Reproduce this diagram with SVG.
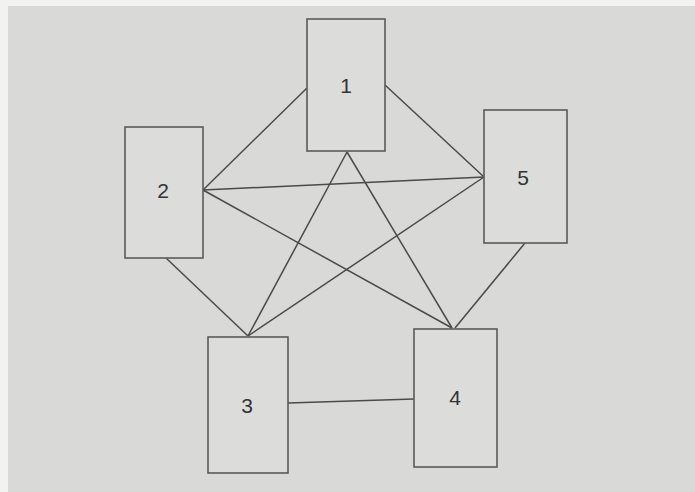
<svg xmlns="http://www.w3.org/2000/svg" width="695" height="492" viewBox="0 0 695 492">
<style>
.box{fill:#dcdcda;stroke:#5a5a5a;stroke-width:1.6}
.lbl{font-family:"Liberation Sans",Arial,sans-serif;font-size:21px;fill:#333;text-anchor:middle}
.edge{stroke:#4a4a4a;stroke-width:1.5;fill:none}
</style>
<rect width="695" height="492" fill="#f2f2f0"/>
<rect x="8" y="6" width="687" height="486" fill="#d9d9d7"/>
<g id="connectors">
<line class="edge" x1="307" y1="88" x2="203" y2="190"/>
<line class="edge" x1="385" y1="85" x2="484" y2="177"/>
<line class="edge" x1="203" y1="190" x2="484" y2="177"/>
<line class="edge" x1="347" y1="152" x2="248" y2="336"/>
<line class="edge" x1="347" y1="152" x2="452" y2="328"/>
<line class="edge" x1="203" y1="190" x2="452" y2="328"/>
<line class="edge" x1="484" y1="177" x2="248" y2="336"/>
<line class="edge" x1="166" y1="258" x2="248" y2="336"/>
<line class="edge" x1="525" y1="243" x2="455" y2="328"/>
<line class="edge" x1="288" y1="403" x2="414" y2="399"/>
</g>
<g id="node1"><rect class="box" x="307" y="19" width="78" height="132"/><text class="lbl" x="346" y="93">1</text></g>
<g id="node2"><rect class="box" x="125" y="127" width="78" height="131"/><text class="lbl" x="163" y="198">2</text></g>
<g id="node5"><rect class="box" x="484" y="110" width="83" height="133"/><text class="lbl" x="523" y="185">5</text></g>
<g id="node3"><rect class="box" x="208" y="337" width="80" height="136"/><text class="lbl" x="247" y="413">3</text></g>
<g id="node4"><rect class="box" x="414" y="329" width="83" height="138"/><text class="lbl" x="455" y="405">4</text></g>
</svg>
